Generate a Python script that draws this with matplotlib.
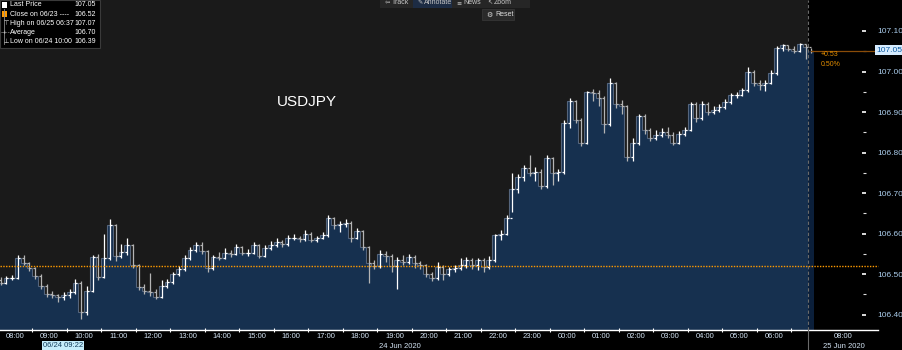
import matplotlib.pyplot as plt
from matplotlib.patches import Rectangle
from matplotlib.lines import Line2D
import numpy as np

plt.rcParams['font.family'] = ['Liberation Sans', 'DejaVu Sans']

# 10-minute bars of USDJPY, first bar 06/24 07:35
start_hour = 7 + 35 / 60
bar_hours = 10 / 60
first_open = 106.485
close = [
    106.479, 106.490, 106.490, 106.540, 106.527, 106.515, 106.495, 106.470, 106.450, 106.448,
    106.443, 106.448, 106.456, 106.478, 106.406, 106.458, 106.542, 106.493, 106.540, 106.620,
    106.545, 106.554, 106.572, 106.522, 106.468, 106.458, 106.456, 106.443, 106.470, 106.480,
    106.500, 106.512, 106.540, 106.560, 106.572, 106.557, 106.515, 106.542, 106.540, 106.552,
    106.550, 106.567, 106.553, 106.553, 106.572, 106.545, 106.565, 106.572, 106.580, 106.575,
    106.589, 106.590, 106.586, 106.600, 106.584, 106.589, 106.596, 106.638, 106.620, 106.623,
    106.626, 106.590, 106.606, 106.567, 106.527, 106.520, 106.550, 106.545, 106.520, 106.535,
    106.530, 106.542, 106.527, 106.522, 106.500, 106.490, 106.517, 106.500, 106.512, 106.515,
    106.522, 106.535, 106.522, 106.535, 106.517, 106.535, 106.596, 106.600, 106.638, 106.710,
    106.740, 106.762, 106.750, 106.752, 106.717, 106.786, 106.750, 106.752, 106.873, 106.927,
    106.880, 106.823, 106.949, 106.947, 106.935, 106.870, 106.971, 106.920, 106.915, 106.789,
    106.823, 106.890, 106.856, 106.835, 106.843, 106.850, 106.843, 106.823, 106.845, 106.856,
    106.920, 106.885, 106.920, 106.900, 106.905, 106.912, 106.925, 106.942, 106.942, 106.954,
    106.999, 106.972, 106.967, 106.972, 106.996, 107.058, 107.065, 107.056, 107.051, 107.068,
    107.060, 107.050,
]
high = [
    106.492, 106.496, 106.497, 106.548, 106.546, 106.530, 106.518, 106.500, 106.476, 106.458,
    106.452, 106.455, 106.462, 106.488, 106.482, 106.470, 106.548, 106.550, 106.600, 106.636,
    106.624, 106.575, 106.590, 106.575, 106.525, 106.476, 106.503, 106.462, 106.485, 106.488,
    106.506, 106.520, 106.546, 106.568, 106.578, 106.580, 106.560, 106.546, 106.555, 106.565,
    106.560, 106.575, 106.570, 106.562, 106.580, 106.575, 106.572, 106.582, 106.588, 106.585,
    106.596, 106.598, 106.594, 106.608, 106.603, 106.595, 106.604, 106.645, 106.642, 106.632,
    106.636, 106.630, 106.614, 106.610, 106.570, 106.535, 106.560, 106.558, 106.550, 106.542,
    106.548, 106.550, 106.546, 106.532, 106.525, 106.506, 106.530, 106.522, 106.518, 106.522,
    106.540, 106.542, 106.540, 106.540, 106.540, 106.544, 106.600, 106.610, 106.645, 106.750,
    106.748, 106.770, 106.795, 106.765, 106.760, 106.795, 106.790, 106.760, 106.880, 106.935,
    106.930, 106.885, 106.952, 106.958, 106.955, 106.940, 106.985, 106.975, 106.930, 106.918,
    106.835, 106.896, 106.895, 106.860, 106.855, 106.860, 106.862, 106.850, 106.852, 106.862,
    106.925, 106.925, 106.928, 106.925, 106.915, 106.920, 106.932, 106.948, 106.950, 106.960,
    107.012, 107.003, 106.980, 106.980, 107.003, 107.062, 107.068, 107.066, 107.062, 107.070,
    107.068, 107.058,
]
low = [
    106.472, 106.475, 106.485, 106.488, 106.522, 106.508, 106.488, 106.462, 106.444, 106.440,
    106.432, 106.436, 106.442, 106.452, 106.390, 106.400, 106.455, 106.485, 106.490, 106.535,
    106.532, 106.540, 106.548, 106.515, 106.460, 106.450, 106.445, 106.438, 106.440, 106.465,
    106.476, 106.496, 106.508, 106.535, 106.555, 106.550, 106.505, 106.510, 106.534, 106.538,
    106.543, 106.546, 106.548, 106.545, 106.550, 106.540, 106.542, 106.560, 106.568, 106.566,
    106.570, 106.583, 106.580, 106.582, 106.578, 106.580, 106.586, 106.592, 106.612, 106.604,
    106.616, 106.578, 106.586, 106.560, 106.478, 106.512, 106.516, 106.530, 106.505, 106.462,
    106.522, 106.525, 106.515, 106.512, 106.492, 106.484, 106.486, 106.486, 106.496, 106.505,
    106.510, 106.515, 106.512, 106.510, 106.506, 106.512, 106.530, 106.585, 106.596, 106.653,
    106.700, 106.730, 106.742, 106.730, 106.710, 106.712, 106.720, 106.730, 106.748, 106.860,
    106.872, 106.815, 106.820, 106.928, 106.915, 106.848, 106.866, 106.910, 106.895, 106.780,
    106.780, 106.818, 106.845, 106.828, 106.830, 106.838, 106.836, 106.818, 106.820, 106.840,
    106.852, 106.875, 106.880, 106.893, 106.895, 106.900, 106.908, 106.920, 106.935, 106.940,
    106.950, 106.965, 106.955, 106.952, 106.968, 106.992, 107.050, 107.050, 107.046, 107.048,
    107.030, 107.045,
]
prev_close = 106.52

legend_rows = [
    ("Last Price", "107.05"),
    ("Close on 06/23 ----", "106.52"),
    ("High on 06/25 06:37", "107.07"),
    ("Average", "106.70"),
    ("Low on 06/24 10:00", "106.39"),
]
hour_pos = list(range(8, 31)) + [32]
hour_labels = ['08:00', '09:00', '10:00', '11:00', '12:00', '13:00', '14:00', '15:00',
               '16:00', '17:00', '18:00', '19:00', '20:00', '21:00', '22:00', '23:00',
               '00:00', '01:00', '02:00', '03:00', '04:00', '05:00', '06:00', '08:00']
price_ticks = [106.40, 106.50, 106.60, 106.70, 106.80, 106.90, 107.00, 107.10]

W, H = 902, 350
x0, x1 = 7.565, 32.667
y0, y1 = 106.362, 107.1765

t = start_hour + np.arange(len(close)) * bar_hours
opens = [first_open] + close[:-1]
edges = np.append(t - bar_hours / 2, t[-1] + bar_hours / 2)

fig = plt.figure(figsize=(W / 100, H / 100), dpi=100, facecolor='black')
ax = fig.add_axes([0, 20 / H, 866 / W, 330 / H])
ax.set_facecolor('black')
ax.set_xlim(x0, x1)
ax.set_ylim(y0, y1)

now_edge = edges[-2]
ax.axvspan(x0, now_edge, color='#1a1a1a', lw=0, zorder=0)

# area under the close
ax.stairs(close[:-1], edges[:-1], baseline=y0, fill=True, color='#16304f', zorder=1)
ax.stairs(close[-1:], edges[-2:], baseline=y0, fill=True, color='#0b1f3a', zorder=1)
ax.stairs(close[:-1], edges[:-1], baseline=None, color='#55657c', lw=0.8, zorder=2)

# OHLC bars
up = np.array(close) >= np.array(opens)
cols = np.where(up, '#ffffff', '#b4b4b4')
tick = 0.055
ax.vlines(t, low, high, colors=cols, lw=0.9, zorder=3)
ax.hlines(opens, t - tick, t, colors=cols, lw=0.9, zorder=3)
ax.hlines(close, t, t + tick, colors=cols, lw=0.9, zorder=3)

# reference lines
ax.axhline(prev_close, color='#ff9a00', ls=(0, (1, 1)), lw=1.0, xmax=1.014, clip_on=False, zorder=4)
ax.plot([t[-1], x1 + 0.3], [close[-1], close[-1]], color='#8a4c08', lw=0.9, clip_on=False, zorder=4)
ax.axvline(now_edge, color='#6a6a6a', ls=(0, (3, 2)), lw=0.8, zorder=4)
fig.add_artist(Line2D([808 / W, 808 / W], [0, 20 / H], color='#6a6a6a', lw=0.8))

for s in ['top', 'left', 'right']:
    ax.spines[s].set_visible(False)
ax.spines['bottom'].set_color('white')
ax.spines['bottom'].set_linewidth(1.0)
ax.spines['bottom'].set_bounds(x0, x1 + 0.35)

ax.set_xticks(hour_pos, hour_labels)
ax.set_xticks(np.arange(8.5, 31, 1.0), minor=True)
ax.tick_params(axis='x', which='major', length=0, labelsize=5.5, labelcolor='#d2e2f2', pad=2)
ax.tick_params(axis='x', which='minor', length=3, direction='inout', color='white', width=0.8)

ax.yaxis.tick_right()
ax.set_yticks(price_ticks, [f'{v:.2f}' for v in price_ticks])
ax.set_yticks(np.array(price_ticks[:-1]) + 0.05, minor=True)
ax.tick_params(axis='y', which='major', direction='in', length=3, width=1.2, color='white',
               labelsize=6, labelcolor='#a9cbea', pad=8)
ax.tick_params(axis='y', which='minor', direction='in', length=2, width=0.8, color='#dddddd')

# current price tag and change
fig.text(889 / W, 1 - 50 / H, f'{close[-1]:.2f}', fontsize=6, color='#0d5aa0', ha='center', va='center',
         bbox=dict(boxstyle='square,pad=0.15', fc='#d6ecff', ec='none'))
fig.text(821 / W, 1 - 55 / H, '+0.53', fontsize=5, color='#e08c00', ha='left', va='center')
fig.text(821 / W, 1 - 65 / H, '0.50%', fontsize=5, color='#e08c00', ha='left', va='center')

# date row
fig.text(400 / W, 1 - 346 / H, '24 Jun 2020', fontsize=5.5, color='#d2e2f2', ha='center', va='center')
fig.text(844 / W, 1 - 346 / H, '25 Jun 2020', fontsize=5.5, color='#d2e2f2', ha='center', va='center')
fig.text(63 / W, 1 - 345.5 / H, '06/24 09:22', fontsize=5.5, color='#123c5a', ha='center', va='center',
         bbox=dict(boxstyle='square,pad=0.1', fc='#c6eefc', ec='none'))

# title
fig.text(307 / W, 1 - 102 / H, 'USDJPY', fontsize=11, color='white', ha='center', va='center')

# legend box
fig.add_artist(Rectangle((0, 1 - 48 / H), 100 / W, 48 / H, transform=fig.transFigure,
                         fc='black', ec='#3a3a3a', lw=0.8))
fig.add_artist(Line2D([3.5 / W, 3.5 / W], [1 - 9 / H, 1 - 44 / H], color='#8a8a8a', lw=0.6))
fig.add_artist(Rectangle((1.5 / W, 1 - 8 / H), 6 / W, 6 / H, transform=fig.transFigure, fc='white', ec='none'))
fig.add_artist(Rectangle((1.5 / W, 1 - 17 / H), 6 / W, 6 / H, transform=fig.transFigure, fc='#ff9a00', ec='none'))
icons = ['', '', '\u22a4', '-+-', '\u22a5']
for k, (name, val) in enumerate(legend_rows):
    yy = 1 - (5 + 9.2 * k) / H
    if icons[k]:
        fig.text(6 / W, yy, icons[k], fontsize=4.5, color='#dddddd', ha='center', va='center',
                 family='DejaVu Sans')
    fig.text(10 / W, yy, name, fontsize=5, color='white', ha='left', va='center')
    fig.text(96 / W, yy, val, fontsize=5, color='white', ha='right', va='center')

# toolbar
fig.add_artist(Rectangle((380 / W, 1 - 8 / H), 150 / W, 8 / H, transform=fig.transFigure,
                         fc='#262626', ec='none'))
fig.add_artist(Rectangle((413 / W, 1 - 8 / H), 39 / W, 8 / H, transform=fig.transFigure,
                         fc='#1d2c44', ec='none'))
fig.add_artist(Rectangle((482 / W, 1 - 20 / H), 32 / W, 11 / H, transform=fig.transFigure,
                         fc='#2a2a2a', ec='#3a3a3a', lw=0.5))
toolbar = [(385, '\u21e6', 'Track'), (417, '\u270e', 'Annotate'), (456, '\u2261', 'News'), (487, '\u2196', 'Zoom')]
for xx, icon, word in toolbar:
    fig.text(xx / W, 1 - 3 / H, icon, fontsize=4.5, color='#c8c8c8', ha='left', va='center',
             family='DejaVu Sans')
    fig.text((xx + 7) / W, 1 - 3 / H, word, fontsize=5, color='#c8c8c8', ha='left', va='center')
fig.text(486 / W, 1 - 14.5 / H, '\u2699', fontsize=5, color='#dcdcdc', ha='left', va='center',
         family='DejaVu Sans')
fig.text(495 / W, 1 - 14.5 / H, 'Reset', fontsize=5, color='#dcdcdc', ha='left', va='center')

fig.savefig('out.png', dpi=100, facecolor='black')
